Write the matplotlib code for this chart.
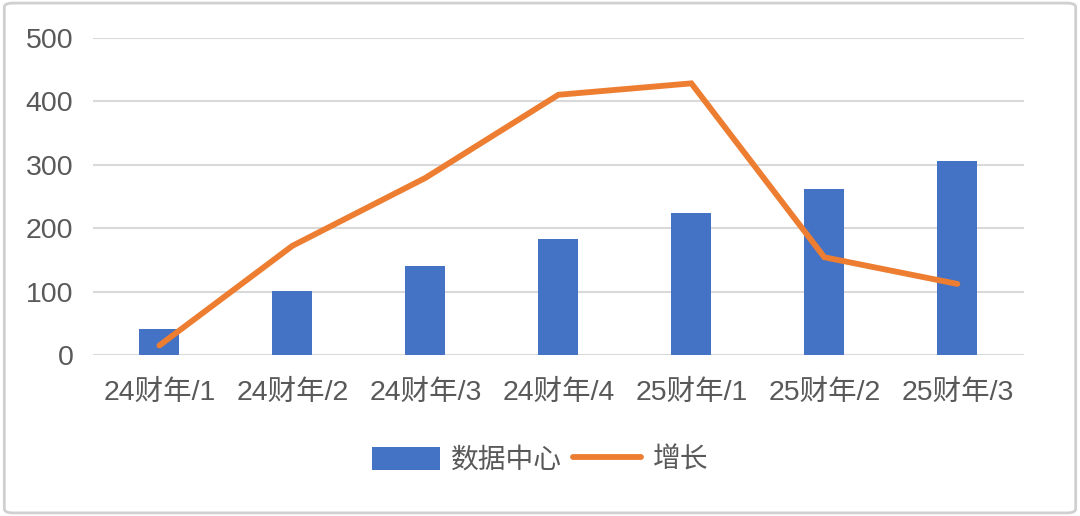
import matplotlib.pyplot as plt
from matplotlib.patches import FancyBboxPatch

plt.rcParams['font.family'] = ['Liberation Sans', 'Noto Sans CJK SC']

# 数据
categories = ['24财年/1', '24财年/2', '24财年/3', '24财年/4', '25财年/1', '25财年/2', '25财年/3']
data_center = [41, 101, 140, 182, 224, 262, 306]
growth = [15, 172, 279, 410, 428, 154, 112]
yticks = [0, 100, 200, 300, 400, 500]

fig = plt.figure(figsize=(10.8, 5.16), dpi=100)
ax = fig.add_axes([0.086, 0.312, 0.862, 0.615])

x = range(len(categories))
bars = ax.bar(x, data_center, width=0.30, color='#4472C4', label='数据中心', zorder=2)
line, = ax.plot(x, growth, color='#ED7D31', lw=4.2, solid_capstyle='round', solid_joinstyle='miter',
                label='增长', zorder=3)

ax.set_xlim(-0.5, len(categories) - 0.5)
ax.set_ylim(0, 500)
ax.set_yticks(yticks)
ax.set_xticks(list(x))
ax.set_xticklabels(categories)
ax.grid(axis='y', color='#d9d9d9', lw=1.5, zorder=0)
ax.set_axisbelow(True)
for s in ax.spines.values():
    s.set_visible(False)
ax.tick_params(length=0, labelsize=20.5, colors='#595959')
ax.tick_params(axis='y', pad=14)
ax.tick_params(axis='x', pad=18)

leg = fig.legend([bars, line], ['数据中心', '增长'], loc='center', bbox_to_anchor=(0.5, 0.108),
                 ncol=2, frameon=False, fontsize=20, handlelength=2.45, handleheight=0.9,
                 columnspacing=0.4, handletextpad=0.4)
for t in leg.get_texts():
    t.set_color('#595959')

# 外框
fig.patches.append(FancyBboxPatch((0.004, 0.006), 0.992, 0.988, boxstyle='round,pad=0,rounding_size=0.008',
                                  transform=fig.transFigure, fill=False, ec='#d0d0d0', lw=2))

fig.savefig('out.png', dpi=100)
